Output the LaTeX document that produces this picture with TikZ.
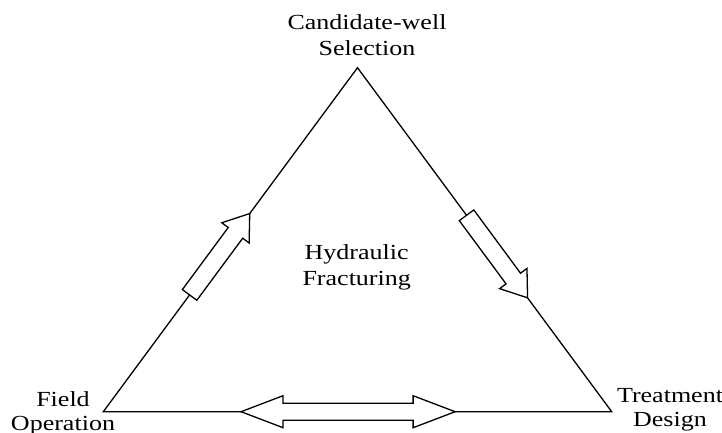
\documentclass[tikz,border=0pt]{standalone}
\usepackage{fontspec}
\setmainfont{Liberation Serif}[FakeStretch=1.21]
\usetikzlibrary{calc}
\tikzset{
  edge/.style={draw=black, line width=1.3pt, line join=miter},
  arrowbox/.style={draw=black, fill=white, line width=1.3pt, line join=miter},
  lbl/.style={inner sep=0pt, align=center, anchor=base, font=\fontsize{21.5}{24}\selectfont},
  lblc/.style={inner sep=0pt, align=center, anchor=base, font=\fontsize{21.5}{26}\selectfont}
}
\newcommand\onearrow[4]{%
  \path ($(#1)!#3!(#2)$) coordinate (tl) ($(#1)!#4!(#2)$) coordinate (tp);
  \path ($(tp)!24pt!(tl)$) coordinate (hb);
  \draw[arrowbox] ($(tl)!9pt!90:(tp)$) -- ($(hb)!9pt!-90:(tl)$) -- ($(hb)!17pt!-90:(tl)$)
    -- (tp) -- ($(hb)!17pt!90:(tl)$) -- ($(hb)!9pt!90:(tl)$) -- ($(tl)!9pt!-90:(tp)$) -- cycle;
}
\begin{document}
\begin{tikzpicture}[x=1pt,y=-1pt]
\useasboundingbox (0,0) rectangle (722,432);
\coordinate (A) at (357.5,67.7);
\coordinate (L) at (103.3,411.7);
\coordinate (R) at (611.7,411.7);
\draw[edge] (L) -- (A) -- (R) -- cycle;
% single arrows
\onearrow{L}{A}{0.3395}{0.576}
\onearrow{A}{R}{0.429}{0.669}
% double arrow
\path ($(L)!0.271!(R)$) coordinate (dl) ($(L)!0.692!(R)$) coordinate (dr);
\path ($(dl)!42pt!(dr)$) coordinate (dlb) ($(dr)!42pt!(dl)$) coordinate (drb);
\draw[arrowbox] (dl) -- ($(dlb)!16pt!90:(dr)$) -- ($(dlb)!8.5pt!90:(dr)$) -- ($(drb)!8.5pt!-90:(dl)$)
  -- ($(drb)!16pt!-90:(dl)$) -- (dr) -- ($(drb)!16pt!90:(dl)$) -- ($(drb)!8.5pt!90:(dl)$)
  -- ($(dlb)!8.5pt!-90:(dr)$) -- ($(dlb)!16pt!-90:(dr)$) -- cycle;
% labels (base anchor = baseline of last line)
\node[lblc] (top) at (367,55) {Candidate-well\\Selection};
\node[lblc] (mid) at (356.7,285) {Hydraulic\\Fracturing};
\node[lbl] (fo) at (63,430) {Field\\Operation};
\node[lbl] (td) at (670,426) {Treatment\\Design};
\end{tikzpicture}
\end{document}
